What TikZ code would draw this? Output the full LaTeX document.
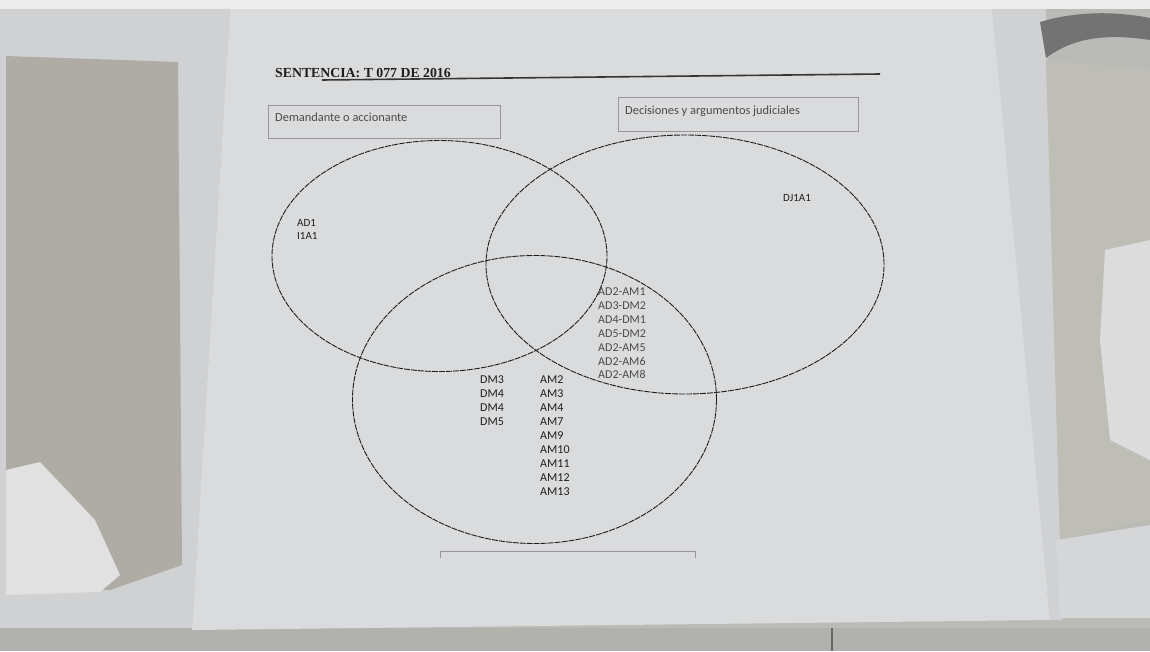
\documentclass[tikz,border=0pt]{standalone}
\usepackage{fontspec}
\setmainfont{Carlito}
\newfontfamily\titlefont{Liberation Serif}
\usetikzlibrary{shapes.geometric}

\definecolor{floorgray}{RGB}{186,186,182}
\definecolor{marble}{RGB}{174,172,164}
\definecolor{sheet}{RGB}{208,209,211}
\definecolor{paper}{RGB}{218,219,221}
\definecolor{glare}{RGB}{236,236,236}
\definecolor{ink}{RGB}{30,30,30}
\definecolor{softink}{RGB}{75,75,75}
\definecolor{frame}{RGB}{150,150,152}

\tikzset{
  venn/.style={ellipse, draw=ink, line width=0.9pt, dash pattern=on 6pt off 1pt,
               inner sep=0pt, fill=none},
  lbl/.style={anchor=west, inner sep=0pt, text=ink,
              font=\fontsize{12}{14}\selectfont},
  softlbl/.style={lbl, text=softink},
  boxlbl/.style={anchor=west, inner sep=0pt, text=softink,
                 font=\fontsize{12.4}{14}\selectfont},
  labelbox/.style={draw=frame, line width=0.6pt},
}

\begin{document}
\begin{tikzpicture}[x=1pt,y=-1pt]
\useasboundingbox (0,0) rectangle (1150,651);

% surroundings of the sheet
\fill[floorgray] (0,0) rectangle (1150,651);
\fill[glare] (0,0) rectangle (1150,9);
\fill[sheet] (0,9) -- (230,9) -- (192,630) -- (0,630) -- cycle;
\fill[marble] (6,56) -- (178,62) -- (182,565) -- (110,590) -- (6,592) -- cycle;
\fill[glare!90!gray] (6,470) -- (40,462) -- (95,520) -- (120,575) -- (100,592) -- (6,595) -- cycle;
\fill[sheet] (990,9) -- (1046,9) -- (1062,620) -- (1050,620) -- cycle;
\fill[marble!80!white] (1046,60) -- (1150,70) -- (1150,520) -- (1060,540) -- cycle;
\fill[glare!85!gray] (1105,250) -- (1150,240) -- (1150,460) -- (1110,440) -- (1100,340) -- cycle;
\fill[sheet!90!white] (1056,540) -- (1150,525) -- (1150,618) -- (1060,618) -- cycle;
\fill[black!55] (1040,22) .. controls (1080,10) and (1120,12) .. (1150,18)
  -- (1150,40) .. controls (1110,34) and (1075,36) .. (1046,58) -- cycle;
\fill[floorgray!95!black] (0,628) rectangle (1150,651);
\draw[black!60, line width=1.5pt] (832,628) -- (832,651);

% the sheet of paper
\fill[paper] (230,9) -- (992,9) -- (1050,620) -- (192,630) -- cycle;

% heading
\node[anchor=west, inner sep=0pt, text=ink, font=\titlefont\bfseries\fontsize{13.8}{15}\selectfont]
  (title) at (275,73) {SENTENCIA: T 077 DE 2016};
\coordinate (ruleL) at (322,80);
\coordinate (ruleR) at (880,74);
\draw[ink!90, line width=1.6pt] (ruleL) -- (ruleR);

% set labels
\draw[labelbox] (268,105) rectangle (500,138);
\node[boxlbl] (setA) at (275,117) {Demandante o accionante};
\draw[labelbox] (618,97) rectangle (858,131);
\node[boxlbl] (setB) at (625,111) {Decisiones y argumentos judiciales};

% the three sets
\node[venn, minimum width=335pt, minimum height=231pt] (dem) at (439.5,256) {};
\node[venn, minimum width=398pt, minimum height=259pt] (dec) at (685,264.5) {};
\node[venn, minimum width=364pt, minimum height=288pt] (arg) at (534.5,399.5) {};

% elements
\node[lbl, font=\fontsize{11}{13}\selectfont] (ad1) at (297,223) {AD1};
\node[lbl, font=\fontsize{11}{13}\selectfont] (i1a1) at (297,236) {I1A1};
\node[lbl, font=\fontsize{11}{13}\selectfont] (dj1a1) at (783,198) {DJ1A1};

\foreach \t [count=\i from 0] in {AD2-AM1,AD3-DM2,AD4-DM1,AD5-DM2,AD2-AM5,AD2-AM6,AD2-AM8}
  \node[softlbl] (pair\i) at (598,{292+13.8*\i}) {\t};

\foreach \t [count=\i from 0] in {DM3,DM4,DM4,DM5}
  \node[lbl] (dm\i) at (480,{380+14*\i}) {\t};

\foreach \t [count=\i from 0] in {AM2,AM3,AM4,AM7,AM9,AM10,AM11,AM12,AM13}
  \node[lbl] (am\i) at (540,{380+14*\i}) {\t};

% lower frame, cut by the page
\coordinate (fbL) at (440,558);
\coordinate (ftL) at (440,551);
\coordinate (ftR) at (695,551);
\coordinate (fbR) at (695,558);
\draw[frame, line width=0.6pt] (fbL) -- (ftL) -- (ftR) -- (fbR);
\end{tikzpicture}
\end{document}
